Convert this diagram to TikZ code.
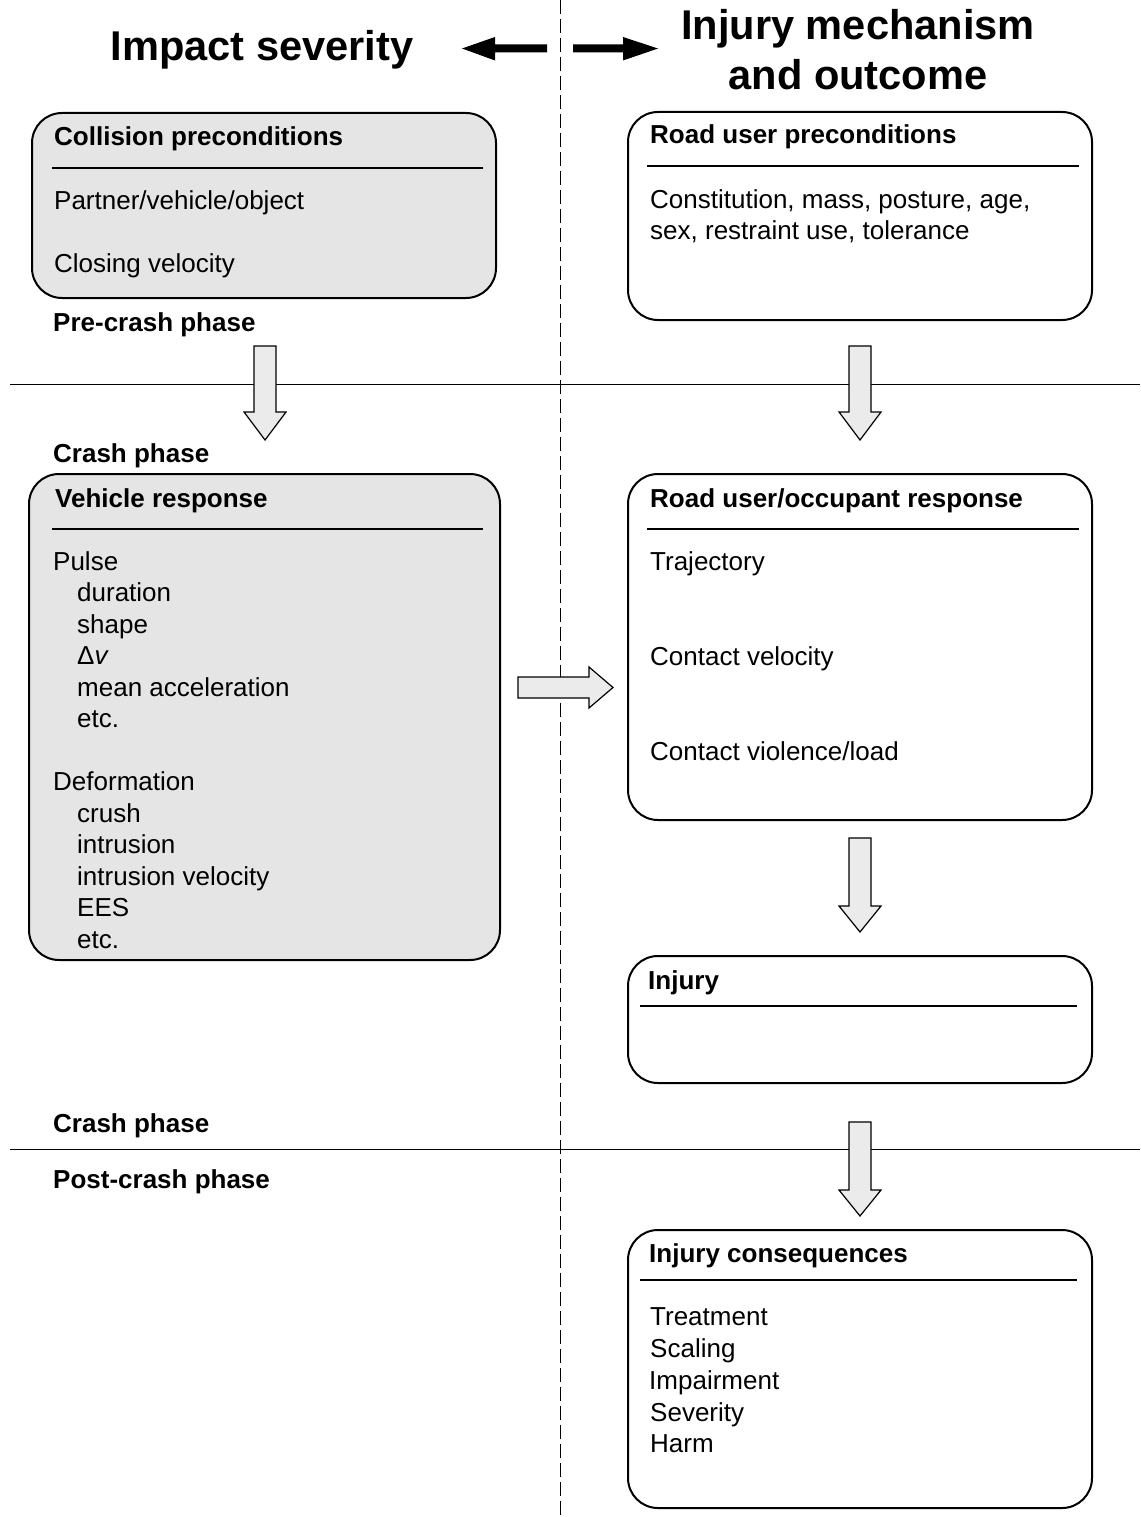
\documentclass[tikz,border=0pt]{standalone}
\usepackage{fontspec}
\setmainfont{Liberation Sans}
\begin{document}
\begin{tikzpicture}[x=1pt,y=-1pt,
  box/.style={draw=black,line width=2pt,rounded corners=30pt},
  shaded/.style={box,fill=black!10},
  plain/.style={box,fill=white},
  sep/.style={line width=1.8pt},
  txt/.style={inner sep=0pt,anchor=base west,font=\fontsize{26}{31.5}\selectfont},
  ttl/.style={txt,font=\fontsize{26}{31.5}\selectfont\bfseries},
  hdr/.style={inner sep=0pt,anchor=base,font=\fontsize{41.6}{50}\selectfont\bfseries},
  hollow/.style={draw=black,line width=1.2pt,fill=black!8,line join=miter},
  phase/.style={line width=0.9pt},
]
\useasboundingbox (0,0) rectangle (1140,1517);
\fill[white] (0,0) rectangle (1140,1517);

% dividing lines
\coordinate (dtop) at (560,0);
\coordinate (dbot) at (560,1517);
\draw[line width=0.9pt,dash pattern=on 14pt off 5pt] (dtop) -- (dbot);
\coordinate (p1l) at (10,384); \coordinate (p1r) at (1140,384);
\coordinate (p2l) at (10,1149); \coordinate (p2r) at (1140,1149);
\draw[phase] (p1l) -- (p1r);
\draw[phase] (p2l) -- (p2r);

% headers
\node[hdr] (h1) at (262,61) {Impact severity};
\node[hdr] (h2) at (858,40) {Injury mechanism};
\node[hdr] (h3) at (858,90) {and outcome};

% black header arrows
\fill[black] (547,44.5) -- (495,44.5) -- (495,37) -- (462,48.5) -- (495,60.5) -- (495,52.5) -- (547,52.5) -- cycle;
\fill[black] (573,44.5) -- (623,44.5) -- (623,37) -- (658,48.5) -- (623,60.5) -- (623,52.5) -- (573,52.5) -- cycle;

% Box 1: collision preconditions
\draw[shaded] (32,113) rectangle (496,298);
\node[ttl] (cpt) at (54,146) {Collision preconditions};
\coordinate (s1a) at (52,168); \coordinate (s1b) at (483,168);
\draw[sep] (s1a) -- (s1b);
\node[txt] (cp1) at (54,209) {Partner/vehicle/object};
\node[txt] (cp2) at (54,272) {Closing velocity};
\node[ttl] (pre) at (53,331) {Pre-crash phase};

% Box 2: road user preconditions
\draw[plain] (628,112) rectangle (1092,320);
\node[ttl] (rpt) at (650,144) {Road user preconditions};
\coordinate (s2a) at (647,166); \coordinate (s2b) at (1079,166);
\draw[sep] (s2a) -- (s2b);
\node[txt] (rp1) at (650,208) {Constitution, mass, posture, age,};
\node[txt] (rp2) at (650,239) {sex, restraint use, tolerance};

% hollow down arrows
\draw[hollow] (254,346) -- (276,346) -- (276,412) -- (286,412) -- (265,440) -- (244,412) -- (254,412) -- cycle;
\draw[hollow] (849,346) -- (871,346) -- (871,412) -- (881,412) -- (860,440) -- (839,412) -- (849,412) -- cycle;
\draw[hollow] (849,838) -- (871,838) -- (871,906) -- (881,906) -- (860,932) -- (839,906) -- (849,906) -- cycle;
\draw[hollow] (849,1122) -- (871,1122) -- (871,1190) -- (881,1190) -- (860,1216) -- (839,1190) -- (849,1190) -- cycle;
% hollow right arrow
\draw[hollow] (518,677) -- (589,677) -- (589,667) -- (613,687.5) -- (589,708) -- (589,698) -- (518,698) -- cycle;

% crash phase
\node[ttl] (cr1) at (53,462) {Crash phase};

% Box 3: vehicle response
\draw[shaded] (29,474) rectangle (500,960);
\node[ttl] (vrt) at (55,507) {Vehicle response};
\coordinate (s3a) at (52,529); \coordinate (s3b) at (483,529);
\draw[sep] (s3a) -- (s3b);
\node[txt] (v1) at (53,570) {Pulse};
\node[txt] (v2) at (77,601.5) {duration};
\node[txt] (v3) at (77,633) {shape};
\node[txt] (v4) at (77,664.5) {Δ\textit{v}};
\node[txt] (v5) at (77,696) {mean acceleration};
\node[txt] (v6) at (77,727.5) {etc.};
\node[txt] (v7) at (53,790.5) {Deformation};
\node[txt] (v8) at (77,822) {crush};
\node[txt] (v9) at (77,853.5) {intrusion};
\node[txt] (v10) at (77,885) {intrusion velocity};
\node[txt] (v11) at (77,916.5) {EES};
\node[txt] (v12) at (77,948) {etc.};

% Box 4: road user/occupant response
\draw[plain] (628,474) rectangle (1092,820);
\node[ttl] (ort) at (650,507) {Road user/occupant response};
\coordinate (s4a) at (647,529); \coordinate (s4b) at (1079,529);
\draw[sep] (s4a) -- (s4b);
\node[txt] (o1) at (650,570) {Trajectory};
\node[txt] (o2) at (650,665) {Contact velocity};
\node[txt] (o3) at (650,760) {Contact violence/load};

% Box 5: injury
\draw[plain] (628,956) rectangle (1092,1083);
\node[ttl] (ijt) at (648,989) {Injury};
\coordinate (s5a) at (640,1006); \coordinate (s5b) at (1077,1006);
\draw[sep] (s5a) -- (s5b);

% phase labels
\node[ttl] (cr2) at (53,1132) {Crash phase};
\node[ttl] (post) at (53,1188) {Post-crash phase};

% Box 6: injury consequences
\draw[plain] (628,1230) rectangle (1092,1508);
\node[ttl] (ict) at (649,1262) {Injury consequences};
\coordinate (s6a) at (640,1280); \coordinate (s6b) at (1077,1280);
\draw[sep] (s6a) -- (s6b);
\node[txt] (c1) at (650,1325) {Treatment};
\node[txt] (c2) at (650,1357) {Scaling};
\node[txt] (c3) at (649,1389) {Impairment};
\node[txt] (c4) at (650,1421) {Severity};
\node[txt] (c5) at (650,1452) {Harm};
\end{tikzpicture}
\end{document}
